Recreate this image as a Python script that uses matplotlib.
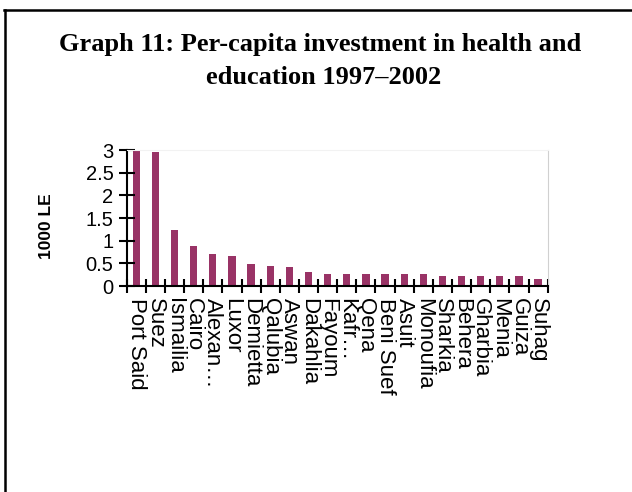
"""
Bar chart: per-capita investment in health and education by governorate.
"""

import matplotlib
matplotlib.use("Agg")
import matplotlib.pyplot as plt
from matplotlib.lines import Line2D

governorates = ["Port Said", "Suez", "Ismailia", "Cairo", "Alexan\u2026", "Luxor",
                "Demietta", "Qalubia", "Aswan", "Dakahlia", "Fayoum", "Kafr\u2026",
                "Qena", "Beni Suef", "Asuit", "Monoufia", "Sharkia", "Behera",
                "Gharbia", "Menia", "Guiza", "Suhag"]
investment = [3.0, 2.96, 1.23, 0.88, 0.70, 0.66, 0.48, 0.44, 0.43, 0.30, 0.26, 0.26,
              0.26, 0.26, 0.26, 0.26, 0.21, 0.21, 0.21, 0.21, 0.21, 0.16]
y_ticks = [0, 0.5, 1, 1.5, 2, 2.5, 3]
y_tick_labels = ["0", "0.5", "1", "1.5", "2", "2.5", "3"]

fig = plt.figure(figsize=(6.32, 4.92), dpi=100)

# outer frame (only top and left edges are visible)
fig.add_artist(Line2D([4 / 632, 1], [1 - 9.5 / 492, 1 - 9.5 / 492], color="black", lw=1.8))
fig.add_artist(Line2D([5 / 632, 5 / 632], [0, 1 - 9.5 / 492], color="black", lw=1.8))

fig.text(0.506, 1 - 44 / 492, "Graph 11: Per-capita investment in health and",
         ha="center", va="center", fontsize=19, fontweight="bold", family="Liberation Serif")
fig.text(0.512, 1 - 77 / 492, "education 1997\u20132002",
         ha="center", va="center", fontsize=19, fontweight="bold", family="Liberation Serif")

ax = fig.add_axes([126.7 / 632, 206 / 492, 421 / 632, 136 / 492])
x = range(len(governorates))
ax.bar(x, investment, width=0.38, color="#993366")

ax.set_xlim(-0.5, len(governorates) - 0.5)
ax.set_ylim(0, 3)
ax.set_yticks(y_ticks)
ax.set_yticklabels(y_tick_labels, family="Liberation Sans", fontsize=14.5)
ax.set_xticks(x)
ax.set_xticklabels(governorates, rotation=-90, family="Liberation Sans", fontsize=16,
                   va="top", ha="center")
ax.set_xticks([i - 0.5 for i in range(len(governorates) + 1)], minor=True)
ax.tick_params(axis="x", which="major", length=0, pad=9)
ax.tick_params(axis="x", which="minor", direction="inout", length=10, width=1.5)
ax.tick_params(axis="y", direction="inout", length=11, width=1.5, pad=4)

ax.spines["left"].set_linewidth(1.5)
ax.spines["bottom"].set_linewidth(1.5)
ax.spines["right"].set_color("#d0d0d0")
ax.spines["top"].set_color("#f2f2f2")

fig.text(47 / 632, 1 - 226 / 492, "1000 LE", rotation=90, ha="center", va="center",
         fontsize=12.5, fontweight="bold", family="Liberation Sans")

plt.savefig("out.png", dpi=100)
